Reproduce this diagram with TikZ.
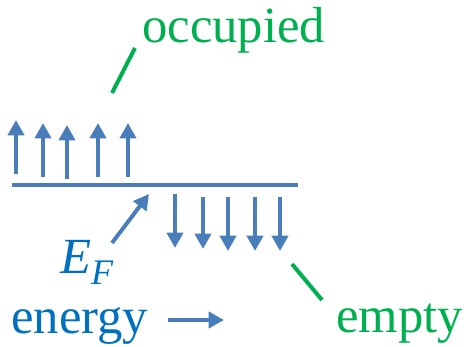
\documentclass[tikz,border=0pt]{standalone}
\usepackage{fontspec}
\setmainfont{Liberation Serif}
\usetikzlibrary{arrows.meta}
\definecolor{arrblue}{HTML}{4A7EBB}
\definecolor{txtblue}{HTML}{0070C0}
\definecolor{grn}{HTML}{00B050}
\tikzset{
  spin/.style={draw=arrblue, line width=3pt, -{Triangle[width=12pt,length=11.5pt]}},
  level/.style={draw=arrblue, line width=3pt},
  lbl/.style={inner sep=0pt, anchor=base west, font=\fontsize{38}{45}\selectfont},
  pointer/.style={draw=grn, line width=3pt},
}
\begin{document}
\begin{tikzpicture}[x=0.75pt,y=-0.75pt]
\useasboundingbox (0,0) rectangle (466,346);
% Fermi level
\coordinate (l1) at (12,185);
\coordinate (l2) at (298,185);
\draw[level] (l1) -- (l2);
% up arrows (occupied)
\foreach \i/\x/\yb/\yt in {1/16/174/120, 2/43/177/123, 3/67/179/125, 4/98/177/123, 5/128/177/123}{
  \coordinate (ub\i) at (\x,\yb);
  \coordinate (ut\i) at (\x,\yt);
  \draw[spin] (ub\i) -- (ut\i);
}
% down arrows (empty)
\foreach \i/\x/\yt/\yb in {1/175/194/248, 2/203/197/249, 3/228/197/251, 4/255/197/251, 5/280/197/251}{
  \coordinate (dt\i) at (\x,\yt);
  \coordinate (db\i) at (\x,\yb);
  \draw[spin] (dt\i) -- (db\i);
}
% labels
\node[lbl, text=grn] (occ) at (142,43) {occupied};
\node[lbl, text=grn] (emp) at (336,332) {empty};
\node[lbl, text=txtblue] (eng) at (11,333) {energy};
\node[lbl, text=txtblue] (ef) at (60,273) {\itshape E\raisebox{-0.22em}{\fontsize{27}{30}\selectfont\itshape F}};
% pointers
\coordinate (po1) at (135,48);
\coordinate (po2) at (112,93);
\draw[pointer] (po1) -- (po2);
\coordinate (pe1) at (292,264);
\coordinate (pe2) at (322,300);
\draw[pointer] (pe1) -- (pe2);
\coordinate (ef1) at (112,243);
\coordinate (ef2) at (149,194);
\draw[spin] (ef1) -- (ef2);
\coordinate (en1) at (168,320);
\coordinate (en2) at (224,320);
\draw[spin] (en1) -- (en2);
\end{tikzpicture}
\end{document}
